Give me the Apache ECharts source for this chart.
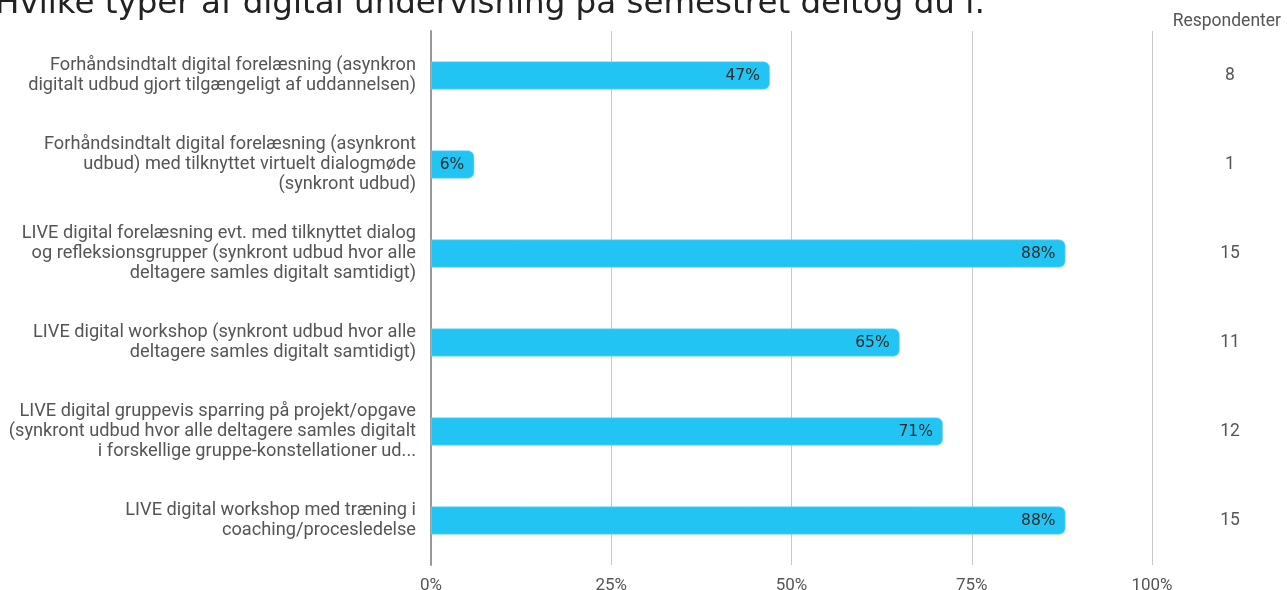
<!DOCTYPE html>
<html>
<head>
<meta charset="utf-8">
<script src="https://cdn.jsdelivr.net/npm/echarts@6/dist/echarts.min.js"></script>
<style>
  html, body { margin: 0; padding: 0; background: #fff; }
  #chart { width: 1287px; height: 590px; }
</style>
</head>
<body>
<div id="chart"></div>
<script>
// Kategorier (linjeskift som i originalen)
const categories = [
  'Forhåndsindtalt digital forelæsning (asynkron\ndigitalt udbud gjort tilgængeligt af uddannelsen)',
  'Forhåndsindtalt digital forelæsning (asynkront\nudbud) med tilknyttet virtuelt dialogmøde\n(synkront udbud)',
  'LIVE digital forelæsning evt. med tilknyttet dialog\nog refleksionsgrupper (synkront udbud hvor alle\ndeltagere samles digitalt samtidigt)',
  'LIVE digital workshop (synkront udbud hvor alle\ndeltagere samles digitalt samtidigt)',
  'LIVE digital gruppevis sparring på projekt/opgave\n(synkront udbud hvor alle deltagere samles digitalt\ni forskellige gruppe-konstellationer ud...',
  'LIVE digital workshop med træning i\ncoaching/procesledelse'
];
// Andel i procent
const percentages = [47, 6, 88, 65, 71, 88];
// Antal respondenter
const respondents = [8, 1, 15, 11, 12, 15];
const xTicks = [0, 25, 50, 75, 100];

const chart = echarts.init(document.getElementById('chart'));
const option = {
  animation: false,
  title: [
    {
      text: 'Hvilke typer af digital undervisning på semestret deltog du i:',
      left: -10,
      top: -17,
      textStyle: { fontFamily: 'DejaVu Sans', fontSize: 32.5, fontWeight: 'normal', color: '#222' }
    },
    {
      text: 'Respondenter',
      right: 1,
      top: 8,
      textStyle: { fontFamily: 'Roboto', fontSize: 17.5, fontWeight: 'normal', color: '#555' }
    }
  ],
  grid: { left: 431, right: 135, top: 31, bottom: 25, containLabel: false, outerBoundsMode: 'none' },
  xAxis: {
    type: 'value',
    min: 0,
    max: 100,
    interval: 25,
    axisLine: { show: false },
    axisTick: { show: false },
    splitLine: { lineStyle: { color: '#c8c8c8', width: 1 } },
    axisLabel: {
      fontFamily: 'Roboto',
      fontSize: 17,
      color: '#555',
      margin: 12,
      formatter: v => xTicks.includes(v) ? v + '%' : ''
    }
  },
  yAxis: [
    {
      type: 'category',
      inverse: true,
      data: categories,
      axisLine: { show: true, lineStyle: { color: '#999', width: 2 } },
      axisTick: { show: false },
      axisLabel: {
        fontFamily: 'Roboto',
        fontSize: 18.2,
        color: '#555',
        lineHeight: 20,
        align: 'right',
        margin: 15,
        padding: [7, 0, 0, 0]
      }
    },
    {
      type: 'category',
      inverse: true,
      position: 'right',
      data: respondents.map(String),
      axisLine: { show: false },
      axisTick: { show: false },
      axisLabel: {
        fontFamily: 'Roboto',
        fontSize: 17.5,
        color: '#555',
        align: 'center',
        margin: 78,
        padding: [4, 0, 0, 0]
      }
    }
  ],
  series: [
    {
      type: 'bar',
      data: percentages,
      barWidth: 28,
      itemStyle: {
        color: '#22c4f3',
        borderRadius: [0, 6, 6, 0],
        borderColor: '#7ad8f6',
        borderWidth: 0.6
      },
      label: {
        show: true,
        position: 'insideRight',
        distance: 10,
        fontFamily: 'DejaVu Sans',
        fontSize: 15.5,
        color: '#2b2b2b',
        formatter: p => p.value + '%'
      }
    }
  ]
};
chart.setOption(option);
</script>
</body>
</html>
